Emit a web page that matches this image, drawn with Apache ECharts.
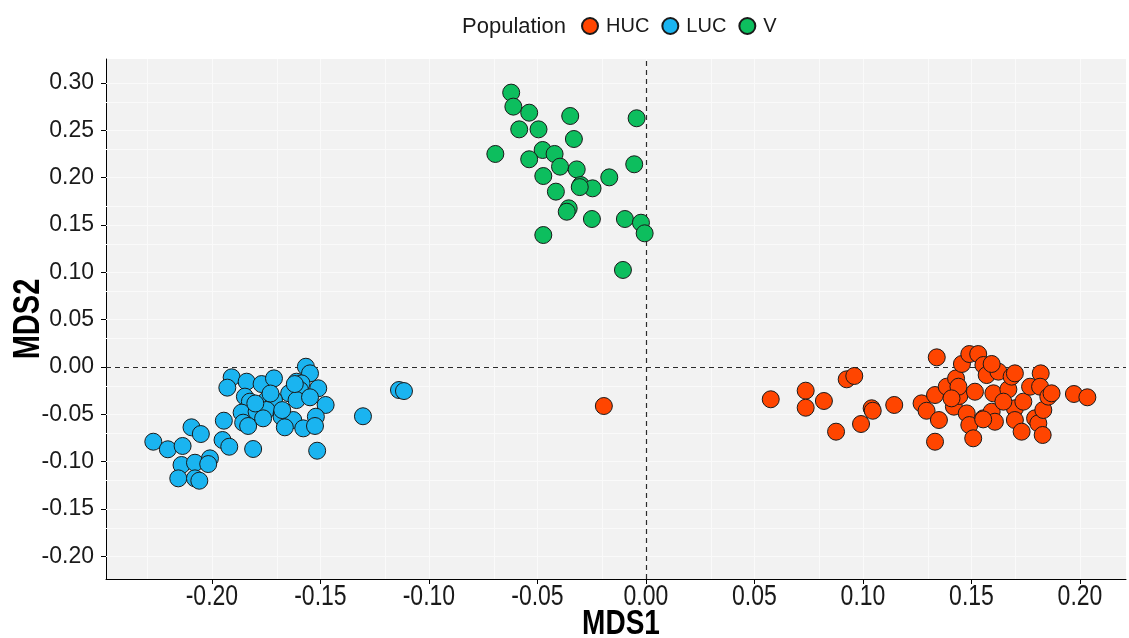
<!DOCTYPE html>
<html>
<head>
<meta charset="utf-8">
<title>MDS ordination by population</title>
<script src="https://cdn.jsdelivr.net/npm/echarts@6/dist/echarts.min.js"></script>
<style>
  html, body { margin: 0; padding: 0; background: #ffffff; }
  #chart { width: 1129px; height: 638px; }
</style>
</head>
<body>
<div id="chart"></div>
<script>
// MDS coordinates [MDS1, MDS2] for each population
const hucPoints = [
  [0.0575, -0.0341], [0.0736, -0.0250], [0.0736, -0.0430], [0.0820, -0.0359],
  [0.0876, -0.0683], [0.0925, -0.0130], [0.0960, -0.0095], [0.0991, -0.0602],
  [0.1040, -0.0436], [0.1045, -0.0462], [0.1144, -0.0401], [0.1270, -0.0384],
  [0.1293, -0.0462], [0.1340, 0.0102], [0.1332, -0.0789], [0.1350, -0.0560],
  [0.1332, -0.0296], [0.1386, -0.0208], [0.1429, -0.0120], [0.1419, -0.0419],
  [0.1444, -0.0306], [0.1456, 0.0032], [0.1490, 0.0137], [0.1531, 0.0137],
  [0.1478, -0.0490], [0.1490, -0.0613], [0.1508, -0.0753], [0.1516, -0.0261],
  [0.1555, 0.0021], [0.1570, -0.0085], [0.1555, -0.0542], [0.1601, -0.0278],
  [0.1593, -0.0472], [0.1608, -0.0578], [0.1624, -0.0049], [0.1670, -0.0236],
  [0.1685, -0.0102], [0.1700, -0.0436], [0.1700, -0.0560], [0.1739, -0.0366],
  [0.1731, -0.0683], [0.1770, -0.0208], [0.1793, -0.0542], [0.1808, -0.0595],
  [0.1819, -0.0067], [0.1816, -0.0208], [0.1828, -0.0718], [0.1831, -0.0454],
  [0.1854, -0.0313], [0.1869, -0.0278], [0.1972, -0.0285], [0.2034, -0.0320],
  [0.1593, 0.0032], [0.1700, -0.0067], [0.1440, -0.0208], [0.1408, -0.0331],
  [0.1647, -0.0366], [0.1554, -0.0553], [-0.0194, -0.0412]
];

const lucPoints = [
  [-0.1567, 0.0003], [-0.1548, -0.0067], [-0.1909, -0.0109], [-0.1840, -0.0155],
  [-0.1771, -0.0180], [-0.1714, -0.0120], [-0.1929, -0.0218], [-0.1610, -0.0155],
  [-0.1587, -0.0173], [-0.1594, -0.0243], [-0.1510, -0.0225], [-0.1644, -0.0278],
  [-0.1610, -0.0349], [-0.1548, -0.0320], [-0.1476, -0.0401], [-0.1848, -0.0313],
  [-0.1825, -0.0366], [-0.1794, -0.0401], [-0.1748, -0.0349], [-0.1714, -0.0349],
  [-0.1863, -0.0482], [-0.1794, -0.0472], [-0.1748, -0.0454], [-0.1679, -0.0496],
  [-0.1679, -0.0525], [-0.1625, -0.0560], [-0.1521, -0.0525], [-0.1945, -0.0567],
  [-0.1856, -0.0588], [-0.1833, -0.0623], [-0.1764, -0.0542], [-0.1664, -0.0637],
  [-0.1579, -0.0648], [-0.1525, -0.0623], [-0.2094, -0.0637], [-0.2051, -0.0708],
  [-0.1951, -0.0771], [-0.2270, -0.0789], [-0.2203, -0.0869], [-0.2135, -0.0834],
  [-0.1920, -0.0842], [-0.1810, -0.0866], [-0.1515, -0.0884], [-0.2140, -0.1035],
  [-0.2078, -0.1011], [-0.2009, -0.0965], [-0.2017, -0.1025], [-0.2155, -0.1176],
  [-0.2078, -0.1176], [-0.2058, -0.1201], [-0.1304, -0.0520], [-0.1138, -0.0243],
  [-0.1115, -0.0254], [-0.1618, -0.0180], [-0.1800, -0.0385], [-0.1730, -0.0280],
  [-0.1676, -0.0455]
];

const vPoints = [
  [-0.0621, 0.2898], [-0.0611, 0.2750], [-0.0538, 0.2686], [-0.0349, 0.2651],
  [-0.0043, 0.2627], [-0.0584, 0.2510], [-0.0495, 0.2510], [-0.0332, 0.2408],
  [-0.0694, 0.2250], [-0.0476, 0.2292], [-0.0421, 0.2250], [-0.0538, 0.2194],
  [-0.0396, 0.2116], [-0.0319, 0.2087], [-0.0054, 0.2141], [-0.0473, 0.2017],
  [-0.0169, 0.2003], [-0.0300, 0.1922], [-0.0246, 0.1887], [-0.0415, 0.1852],
  [-0.0305, 0.1900], [-0.0356, 0.1676], [-0.0365, 0.1640], [-0.0249, 0.1563],
  [-0.0097, 0.1563], [-0.0023, 0.1524], [-0.0006, 0.1412], [-0.0473, 0.1394],
  [-0.0106, 0.1025]
];

// Axis tick values
const xTicks = [-0.20, -0.15, -0.10, -0.05, 0.00, 0.05, 0.10, 0.15, 0.20];
const yTicks = [-0.20, -0.15, -0.10, -0.05, 0.00, 0.05, 0.10, 0.15, 0.20, 0.25, 0.30];

// Axis extents (panel edges)
const xRange = [-0.2488, 0.2212];
const yRange = [-0.2239, 0.3253];

const populations = ['HUC', 'LUC', 'V'];
const colors = { HUC: '#FF4500', LUC: '#1AB4F0', V: '#0DBE5E' };
const pointSets = { HUC: hucPoints, LUC: lucPoints, V: vPoints };

// Major + minor grid positions (minor halfway between majors)
function gridValues(ticks, range) {
  const step = ticks[1] - ticks[0];
  const out = [ticks[0] - step / 2];
  for (let i = 0; i < ticks.length; i++) {
    out.push(ticks[i]);
    out.push(ticks[i] + step / 2);
  }
  return out.filter(v => v > range[0] && v < range[1]);
}

const fmt = v => Number(v).toFixed(2);
const mainFont = "'Liberation Sans', Arial, sans-serif";

const gridLineData = []
  .concat(gridValues(xTicks, xRange).map(v => ({ xAxis: v })))
  .concat(gridValues(yTicks, yRange).map(v => ({ yAxis: v })));

const series = [
  {
    // panel grid lines
    type: 'scatter',
    data: [],
    silent: true,
    z: 1,
    markLine: {
      silent: true,
      symbol: 'none',
      label: { show: false },
      animation: false,
      lineStyle: { color: '#fafafa', width: 1, type: 'solid' },
      data: gridLineData
    }
  },
  {
    // zero reference lines
    type: 'scatter',
    data: [],
    silent: true,
    z: 2,
    markLine: {
      silent: true,
      symbol: 'none',
      label: { show: false },
      animation: false,
      lineStyle: { color: '#2b2b2b', width: 1.2, type: [5, 4] },
      data: [{ xAxis: 0 }, { yAxis: 0 }]
    }
  }
].concat(populations.map(name => ({
  name: name,
  type: 'scatter',
  z: 5,
  symbol: 'circle',
  symbolSize: 17,
  data: pointSets[name],
  itemStyle: { color: colors[name], borderColor: '#1a1a1a', borderWidth: 1, opacity: 1 },
  emphasis: { disabled: true }
})));

const chart = echarts.init(document.getElementById('chart'), null, { renderer: 'canvas' });
chart.setOption({
  animation: false,
  backgroundColor: '#ffffff',
  title: {
    text: 'Population',
    left: 457,
    top: 11,
    textStyle: { fontFamily: mainFont, fontSize: 22, fontWeight: 'normal', color: '#1a1a1a' }
  },
  legend: {
    data: populations,
    left: 576,
    top: 11,
    icon: 'circle',
    itemWidth: 22,
    itemHeight: 16,
    itemGap: 12,
    textStyle: { fontFamily: mainFont, fontSize: 20, color: '#1a1a1a' },
    selectedMode: false
  },
  grid: {
    left: 106,
    right: 3,
    top: 59,
    bottom: 59,
    containLabel: false,
    outerBoundsMode: 'none',
    show: true,
    backgroundColor: '#f2f2f2',
    borderWidth: 0
  },
  xAxis: {
    type: 'value',
    min: xRange[0],
    max: xRange[1],
    axisLine: { show: true, onZero: false, lineStyle: { color: '#000', width: 1 } },
    axisTick: { show: true, length: 5, lineStyle: { color: '#000' }, customValues: xTicks },
    // tick labels for this axis are drawn below as stretched text
    axisLabel: { show: false, customValues: xTicks },
    splitLine: { show: false }
  },
  yAxis: {
    type: 'value',
    min: yRange[0],
    max: yRange[1],
    axisLine: { show: true, onZero: false, lineStyle: { color: '#000', width: 1 } },
    axisTick: { show: true, length: 5, lineStyle: { color: '#000' }, customValues: yTicks },
    axisLabel: {
      customValues: yTicks,
      formatter: fmt,
      fontFamily: mainFont,
      fontSize: 23,
      color: '#1a1a1a',
      margin: 12
    },
    splitLine: { show: false }
  },
  series: series
});

// Axis titles and bottom tick labels: condensed-looking (stretched) text placed via the axis scales
const axisBottom = chart.convertToPixel({ yAxisIndex: 0 }, yRange[0]);
const axisLeft = chart.convertToPixel({ xAxisIndex: 0 }, xRange[0]);
const xMid = chart.convertToPixel({ xAxisIndex: 0 }, (xRange[0] + xRange[1]) / 2);
const yMid = chart.convertToPixel({ yAxisIndex: 0 }, (yRange[0] + yRange[1]) / 2);

const textStyleBase = {
  fill: '#1a1a1a',
  align: 'center',
  verticalAlign: 'top',
  textAlign: 'center',
  textVerticalAlign: 'top'
};

const axisTexts = xTicks.map(v => ({
  type: 'text',
  silent: true,
  x: chart.convertToPixel({ xAxisIndex: 0 }, v),
  y: axisBottom + 3,
  scaleY: 1.3,
  style: Object.assign({ text: fmt(v), font: "23px 'Liberation Sans', Arial, sans-serif" }, textStyleBase)
}));
axisTexts.push({
  type: 'text',
  silent: true,
  x: xMid + 5,
  y: axisBottom + 28,
  scaleY: 1.25,
  style: Object.assign({ text: 'MDS1', font: "bold 28px 'Liberation Sans', Arial, sans-serif" }, textStyleBase, { fill: '#000' })
});
axisTexts.push({
  type: 'text',
  silent: true,
  x: axisLeft - 77,
  y: yMid,
  rotation: Math.PI / 2,
  scaleY: 1.25,
  style: Object.assign({ text: 'MDS2', font: "bold 29px 'Liberation Sans', Arial, sans-serif" }, textStyleBase, {
    fill: '#000', verticalAlign: 'middle', textVerticalAlign: 'middle'
  })
});
chart.setOption({ graphic: axisTexts });
</script>
</body>
</html>
